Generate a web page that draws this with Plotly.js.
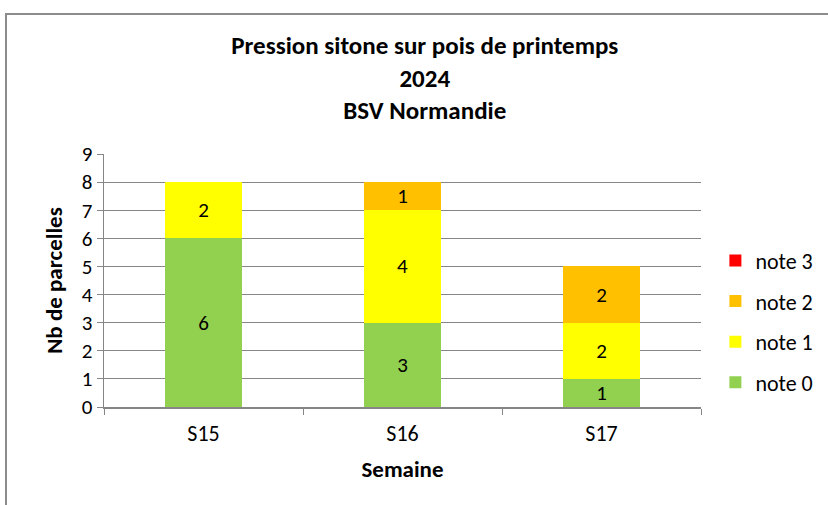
<!DOCTYPE html>
<html><head><meta charset="utf-8">
<script src="https://cdn.plot.ly/plotly-3.0.1.min.js"></script>
<style>
html,body{margin:0;padding:0;background:#fff;}
#wrap{position:relative;width:828px;height:505px;overflow:hidden;}
#chart{position:absolute;left:0;top:0;width:828px;height:505px;}
#frame{position:absolute;left:5px;top:13px;width:900px;height:600px;border-left:2px solid #8c8c8c;border-top:2px solid #8c8c8c;pointer-events:none;}
</style></head>
<body><div id="wrap"><div id="chart"></div><div id="frame"></div></div>
<script>
const categories = ['S15','S16','S17'];
const note0 = [6,3,1];
const note1 = [2,4,2];
const note2 = [0,1,2];
const note3 = [0,0,0];
const seriesNames = ['note 0','note 1','note 2','note 3'];
const seriesValues = [note0,note1,note2,note3];
const colors = ['#92D050','#FFFF00','#FFC000','#FF0000'];
const FONT = "Carlito, Calibri, 'Liberation Sans Narrow', 'Open Sans', sans-serif";

const traces = seriesValues.map((vals,i)=>({
  type:'bar', name:seriesNames[i], x:categories, y:vals,
  marker:{color:colors[i], line:{width:0}},
  text: vals.map(v=> v>0 ? String(v) : ''),
  textposition:'inside', insidetextanchor:'middle', textangle:0, constraintext:'none',
  textfont:{family:FONT,size:21,color:'#000'},
  hoverinfo:'none', legendgroup:'g'+i, legendrank: 10 - i
}));

const layout = {
  width:828, height:505,
  margin:{l:104,r:127,t:154,b:98},
  paper_bgcolor:'#fff', plot_bgcolor:'#fff',
  barmode:'stack', bargap:0.61,
  font:{family:FONT,size:22,color:'#000'},
  title:{text:'<b>Pression sitone sur pois de printemps</b><br><b>2024</b><br><b>BSV Normandie</b>',
    x:0.513, xanchor:'center', y:0.893, yanchor:'top', font:{family:FONT,size:25,color:'#000'}},
  xaxis:{showline:true, linecolor:'#868686', linewidth:1.5, ticks:'outside', tickson:'boundaries',
    ticklen:6, tickcolor:'#868686', tickfont:{family:FONT,size:22}, ticklabelstandoff:6,
    title:{text:'<b>Semaine</b>', font:{family:FONT,size:23}, standoff:15}},
  yaxis:{range:[0,9], dtick:1, showgrid:true, gridcolor:'#868686', gridwidth:1,
    showline:true, linecolor:'#868686', linewidth:1.5, ticks:'outside', ticklen:6, tickcolor:'#868686',
    tickfont:{family:FONT,size:21}, zeroline:false,
    title:{text:'<b>Nb de parcelles</b>', font:{family:FONT,size:23}, standoff:12}},
  legend:{xref:'container', yref:'container', x:0.864, xanchor:'left', y:0.363, yanchor:'middle', traceorder:'grouped',
    tracegroupgap:9, font:{family:FONT,size:22}, itemwidth:30, bgcolor:'rgba(0,0,0,0)'},
  showlegend:true
};
Plotly.newPlot('chart', traces, layout, {displayModeBar:false, staticPlot:true});
</script></body></html>
